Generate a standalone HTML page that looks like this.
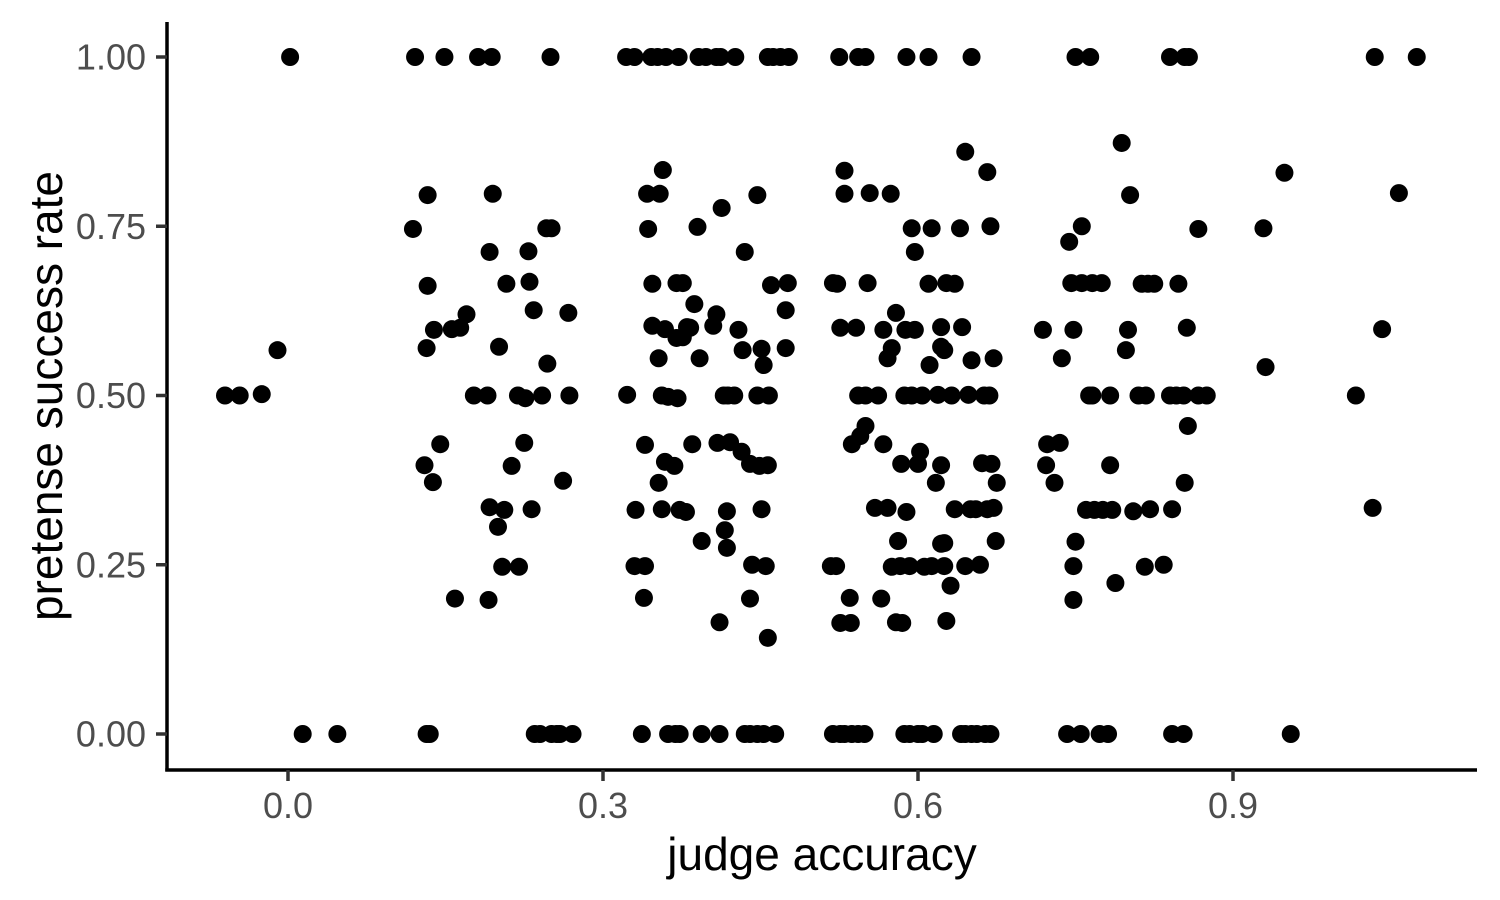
<!DOCTYPE html>
<html><head><meta charset="utf-8"><style>
html,body{margin:0;padding:0;background:#fff;}
svg{display:block;font-family:"Liberation Sans",Arial,sans-serif;}
</style></head><body>
<svg id="chart" width="1500" height="900">
<g id="grid"></g>
<g id="points"></g>
<g id="axes"></g>
</svg>
<script>
const xTicks=[0.0,0.3,0.6,0.9];
const xTickLabels=["0.0","0.3","0.6","0.9"];
const yTicks=[0,0.25,0.5,0.75,1];
const yTickLabels=["0.00","0.25","0.50","0.75","1.00"];
const xTop=[0.002,0.121,0.149,0.181,0.194,0.250,0.322,0.330,0.346,0.352,0.360,0.372,0.391,0.398,0.408,0.412,0.426,0.457,0.462,0.469,0.477,0.525,0.543,0.550,0.589,0.610,0.651,0.750,0.764,0.840,0.854,0.858,1.035,1.075];
const xBottom=[0.014,0.047,0.132,0.135,0.235,0.240,0.251,0.256,0.259,0.271,0.337,0.362,0.369,0.373,0.394,0.411,0.435,0.440,0.447,0.453,0.464,0.519,0.526,0.530,0.537,0.543,0.549,0.587,0.592,0.600,0.604,0.615,0.641,0.645,0.651,0.656,0.664,0.669,0.742,0.755,0.773,0.781,0.842,0.853,0.955];
const xMid=[-0.06,-0.046,-0.025,-0.01,0.119,0.133,0.133,0.132,0.139,0.145,0.130,0.138,0.156,0.164,0.170,0.159,0.177,0.190,0.192,0.195,0.201,0.208,0.192,0.200,0.206,0.191,0.204,0.220,0.213,0.225,0.219,0.226,0.229,0.230,0.234,0.232,0.242,0.246,0.251,0.247,0.262,0.267,0.268,
0.323,0.331,0.330,0.340,0.339,0.340,0.342,0.354,0.343,0.347,0.347,0.353,0.353,0.357,0.359,0.356,0.362,0.371,0.359,0.368,0.356,0.370,0.376,0.370,0.376,0.380,0.373,0.379,0.385,0.383,0.387,0.390,0.392,0.394,0.405,0.408,0.413,0.409,0.415,0.419,0.425,0.421,0.418,0.416,0.418,0.411,0.429,0.432,0.433,0.435,0.440,0.440,0.442,0.447,0.447,0.449,0.451,0.451,0.453,0.455,0.458,0.457,0.457,0.460,0.474,0.474,0.476,
0.519,0.523,0.517,0.522,0.526,0.536,0.535,0.530,0.530,0.526,0.541,0.537,0.545,0.550,0.543,0.552,0.550,0.554,0.562,0.567,0.574,0.567,0.565,0.559,0.571,0.571,0.575,0.579,0.575,0.579,0.585,0.581,0.583,0.588,0.584,0.589,0.587,0.592,0.594,0.594,0.597,0.597,0.600,0.602,0.604,0.606,0.610,0.611,0.613,0.619,0.617,0.613,0.622,0.622,0.622,0.625,0.625,0.627,0.627,0.622,0.625,0.631,0.632,0.635,0.635,0.640,0.642,0.645,0.645,0.648,0.650,0.651,0.655,0.659,0.661,0.663,0.666,0.668,0.669,0.666,0.672,0.670,0.672,0.675,0.674,
0.719,0.722,0.723,0.730,0.735,0.737,0.744,0.746,0.748,0.748,0.748,0.750,0.756,0.756,0.763,0.760,0.766,0.766,0.768,0.775,0.776,0.783,0.783,0.785,0.788,0.794,0.798,0.800,0.802,0.805,0.810,0.816,0.813,0.819,0.817,0.821,0.825,0.834,0.842,0.840,0.846,0.848,0.853,0.856,0.854,0.857,0.867,0.867,0.875,
0.929,0.931,0.949,1.017,1.033,1.042,1.058];
const yMid=[0.5,0.5,0.502,0.567,0.746,0.796,0.662,0.57,0.597,0.428,0.397,0.372,0.598,0.6,0.62,0.2,0.5,0.5,0.712,0.798,0.572,0.665,0.335,0.306,0.331,0.198,0.247,0.247,0.396,0.43,0.5,0.496,0.713,0.668,0.626,0.332,0.5,0.747,0.747,0.547,0.374,0.622,0.5,
0.501,0.331,0.248,0.248,0.201,0.427,0.798,0.798,0.746,0.665,0.603,0.555,0.371,0.833,0.598,0.5,0.498,0.496,0.402,0.396,0.332,0.666,0.666,0.585,0.586,0.601,0.331,0.328,0.428,0.6,0.635,0.749,0.555,0.285,0.603,0.62,0.777,0.43,0.5,0.5,0.5,0.431,0.329,0.301,0.275,0.165,0.597,0.417,0.567,0.712,0.399,0.2,0.25,0.796,0.5,0.396,0.332,0.569,0.545,0.248,0.5,0.397,0.142,0.663,0.626,0.57,0.666,
0.666,0.665,0.248,0.248,0.164,0.164,0.201,0.832,0.798,0.6,0.6,0.428,0.44,0.455,0.5,0.666,0.5,0.799,0.5,0.597,0.798,0.428,0.2,0.334,0.334,0.555,0.57,0.622,0.247,0.165,0.164,0.285,0.248,0.597,0.399,0.328,0.5,0.248,0.5,0.747,0.712,0.597,0.399,0.417,0.5,0.247,0.665,0.545,0.747,0.501,0.371,0.248,0.397,0.601,0.572,0.248,0.282,0.167,0.666,0.281,0.567,0.219,0.5,0.665,0.332,0.747,0.601,0.86,0.248,0.501,0.332,0.552,0.332,0.25,0.4,0.5,0.83,0.5,0.75,0.332,0.334,0.399,0.555,0.371,0.285,
0.597,0.397,0.428,0.371,0.43,0.555,0.727,0.666,0.597,0.248,0.198,0.284,0.75,0.666,0.5,0.331,0.666,0.5,0.331,0.666,0.331,0.5,0.397,0.331,0.223,0.873,0.567,0.597,0.796,0.329,0.5,0.247,0.665,0.665,0.5,0.332,0.665,0.25,0.332,0.5,0.5,0.665,0.5,0.6,0.371,0.455,0.746,0.5,0.5,
0.747,0.542,0.829,0.5,0.334,0.598,0.799];
const NS="http://www.w3.org/2000/svg";
const X0=288, XS=1050, Y0=734, YS=677;
function sx(v){return X0+v*XS;}
function sy(v){return Y0-v*YS;}
function mk(tag,attrs,parent){const e=document.createElementNS(NS,tag);for(const k in attrs)e.setAttribute(k,attrs[k]);parent.appendChild(e);return e;}
const pts=document.getElementById('points');
function dot(x,y){
  const c=mk('circle',{cx:sx(x),cy:sy(y),r:9,fill:'#000'},pts);
  
  
}
xTop.forEach(x=>dot(x,1));
xBottom.forEach(x=>dot(x,0));
xMid.forEach((x,i)=>dot(x,yMid[i]));
const ax=document.getElementById('axes');
const yl=mk('line',{x1:167,y1:22,x2:167,y2:771.5,stroke:'#000','stroke-width':3.5},ax);


const xl=mk('line',{x1:165.3,y1:770,x2:1477,y2:770,stroke:'#000','stroke-width':3.5},ax);


yTicks.forEach((v,i)=>{
  mk('line',{x1:156,y1:sy(v),x2:167,y2:sy(v),stroke:'#333','stroke-width':3.5},ax);
  const t=mk('text',{x:146,y:sy(v)+12.5,'text-anchor':'end','font-size':36,fill:'#4d4d4d'},ax);
  t.textContent=yTickLabels[i];
  
  
});
xTicks.forEach((v,i)=>{
  mk('line',{x1:sx(v),y1:770,x2:sx(v),y2:781,stroke:'#333','stroke-width':3.5},ax);
  const t=mk('text',{x:sx(v),y:818,'text-anchor':'middle','font-size':36,fill:'#4d4d4d'},ax);
  t.textContent=xTickLabels[i];
  
  
});
const xt=mk('text',{x:822,y:870,'text-anchor':'middle','font-size':46,fill:'#000'},ax);
xt.textContent='judge accuracy';


const yt=mk('text',{x:0,y:0,'text-anchor':'middle','font-size':46,fill:'#000',transform:'translate(62,396) rotate(-90)'},ax);
yt.textContent='pretense success rate';


</script>
</body></html>
